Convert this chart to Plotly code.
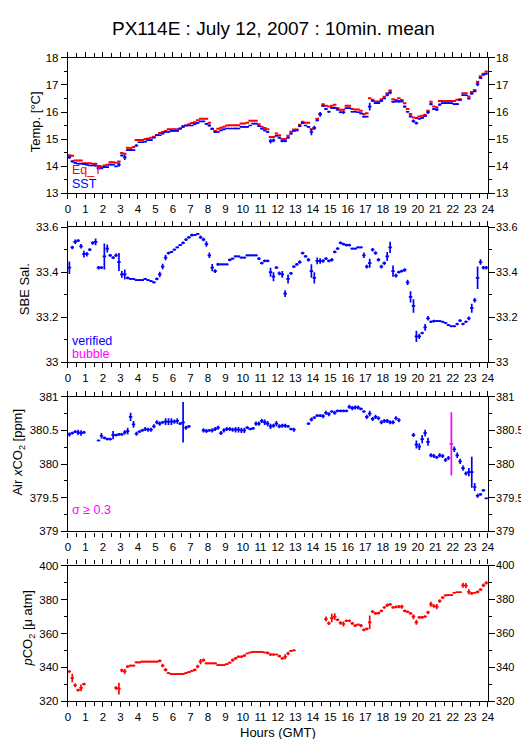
import numpy as np
import plotly.graph_objects as go

nan = float("nan")
# 10-minute bin centres (hours GMT)
hours = [round((i + 0.5) / 6, 4) for i in range(144)]

eq_t = [
    14.40, 14.38, 14.20, 14.20, 14.20, 14.10,
    14.10, 14.10, 14.08, 14.08, 13.96, 13.96,
    14.02, 14.05, 14.14, 14.14, 14.12, 14.17,
    14.48, 14.45, 14.68, 14.66, 14.70, 14.96,
    14.96, 14.96, 15.00, 15.02, 15.05, 15.08,
    15.15, 15.22, 15.26, 15.30, 15.36, 15.36,
    15.36, 15.36, 15.40, 15.48, 15.50, 15.55,
    15.59, 15.62, 15.69, 15.75, 15.75, 15.75,
    15.60, 15.38, 15.30, 15.38, 15.42, 15.45,
    15.50, 15.51, 15.51, 15.51, 15.51, 15.57,
    15.57, 15.60, 15.68, 15.68, 15.68, 15.55,
    15.45, 15.41, 15.36, 15.07, 15.07, 15.20,
    15.14, 15.00, 15.00, 15.12, 15.27, 15.35,
    15.35, 15.53, 15.64, 15.60, 15.60, 15.36,
    15.41, 15.75, 15.93, 16.29, 16.23, 16.20,
    16.23, 16.27, 16.15, 16.08, 16.08, 16.23,
    16.23, 16.11, 16.09, 16.09, 16.05, 15.93,
    15.95, 16.51, 16.45, 16.39, 16.39, 16.47,
    16.56, 16.69, 16.80, 16.47, 16.44, 16.51,
    16.44, 16.32, 16.11, 15.93, 15.80, 15.78,
    15.83, 15.86, 15.90, 16.05, 16.38, 16.20,
    16.18, 16.41, 16.41, 16.41, 16.41, 16.41,
    16.41, 16.45, 16.47, 16.69, 16.69, 16.57,
    16.74, 16.81, 17.12, 17.32, 17.42, 17.50,
]

sst = [
    14.32, 14.17, 14.12, 14.09, 14.09, 14.07,
    14.05, 14.02, 14.02, 14.02, 13.91, 13.91,
    13.96, 13.96, 14.05, 14.05, 13.99, 14.05,
    14.39, 14.32, 14.59, 14.59, 14.59, 14.76,
    14.88, 14.88, 14.90, 14.96, 14.96, 15.05,
    15.14, 15.14, 15.20, 15.26, 15.26, 15.30,
    15.30, 15.30, 15.38, 15.45, 15.50, 15.50,
    15.50, 15.55, 15.60, 15.65, 15.65, 15.56,
    15.50, 15.38, 15.26, 15.26, 15.32, 15.36,
    15.39, 15.39, 15.39, 15.39, 15.39, 15.45,
    15.45, 15.45, 15.50, 15.57, 15.57, 15.48,
    15.38, 15.32, 15.26, 14.92, 14.95, 15.12,
    15.05, 14.92, 14.92, 15.05, 15.20, 15.30,
    15.32, 15.48, 15.59, 15.50, 15.45, 15.26,
    15.41, 15.69, 15.91, 16.23, 16.11, 16.01,
    16.15, 16.15, 16.09, 15.99, 15.99, 16.14,
    16.14, 16.01, 16.01, 15.99, 15.95, 15.83,
    15.83, 16.20, 16.41, 16.33, 16.33, 16.41,
    16.50, 16.63, 16.72, 16.38, 16.39, 16.39,
    16.39, 16.20, 16.01, 15.84, 15.66, 15.59,
    15.75, 15.78, 15.85, 15.99, 16.29, 16.11,
    16.09, 16.27, 16.33, 16.33, 16.33, 16.33,
    16.29, 16.29, 16.45, 16.62, 16.62, 16.50,
    16.68, 16.76, 17.03, 17.26, 17.38, 17.42,
]

sst_err = [
    0.05, 0.04, 0.02, 0.02, 0.02, 0.02,
    0.02, 0.02, 0.02, 0.05, 0.03, 0.02,
    0.02, 0.02, 0.02, 0.02, 0.02, 0.08,
    0.04, 0.10, 0.03, 0.03, 0.02, 0.05,
    0.02, 0.02, 0.02, 0.02, 0.02, 0.02,
    0.02, 0.02, 0.02, 0.02, 0.02, 0.02,
    0.02, 0.02, 0.03, 0.03, 0.02, 0.02,
    0.02, 0.02, 0.03, 0.02, 0.02, 0.02,
    0.05, 0.04, 0.04, 0.02, 0.02, 0.02,
    0.02, 0.02, 0.02, 0.03, 0.02, 0.02,
    0.02, 0.02, 0.02, 0.02, 0.02, 0.02,
    0.03, 0.03, 0.04, 0.09, 0.07, 0.03,
    0.03, 0.04, 0.04, 0.03, 0.03, 0.03,
    0.02, 0.03, 0.03, 0.02, 0.02, 0.12,
    0.08, 0.03, 0.09, 0.03, 0.04, 0.04,
    0.03, 0.04, 0.03, 0.04, 0.06, 0.03,
    0.02, 0.02, 0.02, 0.02, 0.03, 0.03,
    0.02, 0.14, 0.03, 0.03, 0.03, 0.03,
    0.03, 0.05, 0.06, 0.04, 0.04, 0.05,
    0.04, 0.04, 0.03, 0.04, 0.06, 0.05,
    0.03, 0.03, 0.03, 0.06, 0.04, 0.04,
    0.05, 0.04, 0.02, 0.02, 0.02, 0.02,
    0.02, 0.03, 0.03, 0.03, 0.02, 0.04,
    0.03, 0.02, 0.08, 0.04, 0.03, 0.03,
]

sal = [
    33.42, 33.51, 33.535, 33.54, 33.515, 33.48,
    33.48, 33.50, 33.53, 33.535, 33.42, 33.42,
    33.47, 33.505, 33.475, 33.465, 33.475, 33.445,
    33.39, 33.39, 33.375, 33.37, 33.37, 33.365,
    33.365, 33.365, 33.37, 33.365, 33.36, 33.355,
    33.37, 33.39, 33.425, 33.465, 33.485, 33.49,
    33.50, 33.51, 33.52, 33.53, 33.545, 33.555,
    33.565, 33.565, 33.57, 33.555, 33.545, 33.525,
    33.475, 33.42, 33.405, 33.435, 33.435, 33.435,
    33.435, 33.455, 33.46, 33.47, 33.47, 33.465,
    33.465, 33.475, 33.475, 33.475, 33.475, 33.46,
    33.44, 33.45, 33.45, 33.40, 33.38, 33.42,
    33.395, 33.39, 33.305, 33.37, 33.395, 33.425,
    33.435, 33.445, 33.485, 33.47, 33.455, 33.405,
    33.375, 33.45, 33.45, 33.45, 33.46, 33.45,
    33.455, 33.49, 33.505, 33.53, 33.525, 33.52,
    33.52, 33.505, 33.505, 33.51, 33.51, 33.475,
    33.425, 33.44, 33.50, 33.485, 33.455, 33.425,
    33.44, 33.47, 33.51, 33.405, 33.385, 33.40,
    33.405, 33.41, 33.355, 33.29, 33.25, 33.115,
    33.115, 33.13, 33.155, 33.195, 33.18, 33.183,
    33.183, 33.183, 33.18, 33.175, 33.165, 33.16,
    33.16, 33.17, 33.185, 33.17, 33.18, 33.195,
    33.24, 33.275, 33.375, 33.445, 33.42, 33.42,
]

sal_err = [
    0.028, 0.008, 0.010, 0.006, 0.010, 0.015,
    0.010, 0.006, 0.008, 0.015, 0.008, 0.006,
    0.058, 0.018, 0.006, 0.006, 0.008, 0.040,
    0.015, 0.022, 0.006, 0.004, 0.004, 0.004,
    0.004, 0.004, 0.004, 0.004, 0.004, 0.004,
    0.006, 0.012, 0.012, 0.012, 0.006, 0.004,
    0.004, 0.004, 0.004, 0.006, 0.006, 0.006,
    0.006, 0.004, 0.004, 0.008, 0.008, 0.012,
    0.012, 0.016, 0.008, 0.006, 0.004, 0.004,
    0.004, 0.006, 0.004, 0.004, 0.004, 0.004,
    0.004, 0.004, 0.004, 0.004, 0.004, 0.006,
    0.006, 0.006, 0.006, 0.020, 0.020, 0.006,
    0.008, 0.015, 0.015, 0.020, 0.006, 0.006,
    0.006, 0.008, 0.006, 0.006, 0.008, 0.030,
    0.025, 0.015, 0.012, 0.008, 0.006, 0.006,
    0.008, 0.006, 0.006, 0.006, 0.006, 0.006,
    0.006, 0.004, 0.004, 0.004, 0.004, 0.012,
    0.008, 0.020, 0.008, 0.008, 0.008, 0.008,
    0.008, 0.020, 0.025, 0.025, 0.008, 0.006,
    0.006, 0.008, 0.012, 0.025, 0.030, 0.025,
    0.012, 0.006, 0.015, 0.010, 0.006, 0.006,
    0.004, 0.004, 0.004, 0.004, 0.004, 0.004,
    0.004, 0.006, 0.006, 0.006, 0.006, 0.008,
    0.020, 0.010, 0.050, 0.012, 0.008, 0.008,
]

air = [
    380.44, 380.46, 380.48, 380.47, 380.46, 380.47,
    nan, nan, nan, nan, 380.35, 380.42,
    380.39, 380.37, 380.37, 380.43, 380.43, 380.44,
    380.44, 380.47, 380.49, 380.70, 380.59, 380.45,
    380.48, 380.50, 380.52, 380.51, 380.51, 380.56,
    380.62, 380.60, 380.62, 380.63, 380.63, 380.63,
    380.63, 380.64, 380.60, 380.62, 380.54, 380.56,
    nan, nan, nan, nan, 380.50, 380.49,
    380.50, 380.50, 380.52, 380.54, 380.46, 380.50,
    380.52, 380.52, 380.51, 380.51, 380.51, 380.50,
    380.50, 380.54, 380.52, 380.53, 380.60, 380.60,
    380.64, 380.62, 380.60, 380.56, 380.57, 380.60,
    380.56, 380.57, 380.57, 380.56, 380.52, 380.51,
    nan, nan, nan, nan, 380.60, 380.66,
    380.69, 380.72, 380.72, 380.71, 380.76, 380.74,
    380.78, 380.76, 380.79, 380.79, 380.79, 380.79,
    380.85, 380.83, 380.84, 380.84, 380.82, 380.78,
    380.70, 380.75, 380.67, 380.70, 380.68, 380.62,
    380.64, 380.64, 380.62, 380.62, 380.68, 380.65,
    nan, nan, nan, nan, 380.43, 380.29,
    380.26, 380.37, 380.46, 380.33, 380.13, 380.12,
    380.10, 380.13, 380.12, 380.06, 380.09, nan,
    380.22, 380.13, 380.04, 379.94, 379.86, 379.88,
    379.88, 379.66, 379.53, 379.55, 379.61, 379.49,
]

air_err = [
    0.03, 0.02, 0.02, 0.04, 0.04, 0.02,
    0.0, 0.0, 0.0, 0.0, 0.01, 0.04,
    0.02, 0.02, 0.02, 0.06, 0.02, 0.02,
    0.02, 0.03, 0.05, 0.06, 0.05, 0.03,
    0.02, 0.02, 0.03, 0.03, 0.03, 0.03,
    0.03, 0.03, 0.02, 0.05, 0.05, 0.05,
    0.03, 0.04, 0.02, 0.30, 0.03, 0.02,
    0.0, 0.0, 0.0, 0.0, 0.03, 0.03,
    0.02, 0.03, 0.03, 0.03, 0.03, 0.03,
    0.03, 0.03, 0.03, 0.04, 0.04, 0.04,
    0.04, 0.02, 0.02, 0.02, 0.03, 0.03,
    0.03, 0.04, 0.04, 0.04, 0.03, 0.04,
    0.03, 0.03, 0.03, 0.02, 0.02, 0.03,
    0.0, 0.0, 0.0, 0.0, 0.02, 0.03,
    0.02, 0.02, 0.02, 0.03, 0.03, 0.03,
    0.02, 0.03, 0.02, 0.02, 0.02, 0.02,
    0.03, 0.03, 0.03, 0.03, 0.02, 0.02,
    0.03, 0.04, 0.03, 0.03, 0.03, 0.03,
    0.03, 0.03, 0.03, 0.03, 0.03, 0.03,
    0.0, 0.0, 0.0, 0.0, 0.03, 0.06,
    0.05, 0.06, 0.05, 0.06, 0.03, 0.03,
    0.02, 0.03, 0.03, 0.03, 0.03, 0.0,
    0.04, 0.04, 0.04, 0.04, 0.03, 0.06,
    0.23, 0.06, 0.03, 0.02, 0.02, 0.01,
]

bubble_hours = [21.9167]
bubble_air = [380.30]
bubble_err = [0.47]

pco2 = [
    337.6, 333.7, 329.5, 326.6, 327.9, 330.2,
    nan, nan, nan, nan, nan, nan,
    nan, nan, nan, nan, 327.9, 327.5,
    338.2, 337.6, 340.5, 341.1, 341.1, 343.0,
    343.0, 343.4, 343.4, 343.4, 343.4, 343.4,
    343.4, 343.8, 341.1, 338.6, 336.6, 336.0,
    336.0, 336.0, 336.0, 336.2, 336.6, 337.2,
    338.0, 338.6, 340.5, 343.4, 344.3, 342.4,
    342.4, 342.4, 342.4, 341.4, 341.4, 341.4,
    342.0, 342.8, 344.3, 345.3, 346.3, 346.3,
    346.9, 348.2, 348.8, 349.2, 349.2, 349.2,
    349.2, 348.8, 348.6, 347.6, 347.6, 347.6,
    346.7, 345.3, 346.3, 348.2, 349.8, 350.1,
    nan, nan, nan, nan, nan, nan,
    nan, nan, nan, nan, 368.5, 366.0,
    369.1, 369.9, 368.1, 366.2, 365.6, 367.5,
    367.5, 366.0, 364.6, 365.2, 364.6, 362.1,
    362.7, 366.6, 372.9, 371.8, 372.0, 373.3,
    375.3, 376.6, 377.2, 375.3, 375.7, 375.8,
    375.8, 373.3, 372.8, 371.8, 369.9, 366.6,
    369.5, 369.5, 370.0, 372.4, 377.2, 376.2,
    375.8, 379.1, 381.1, 382.4, 382.6, 382.6,
    384.0, 384.3, 384.3, 388.4, 388.2, 384.5,
    383.6, 384.0, 384.5, 385.9, 388.4, 389.8,
]

pco2_err = [
    0.8, 2.5, 1.2, 0.8, 2.0, 0.8,
    0, 0, 0, 0, 0, 0,
    0, 0, 0, 0, 1.0, 3.5,
    1.0, 1.5, 0.8, 0.5, 0.5, 0.5,
    0.5, 0.5, 0.5, 0.5, 0.5, 0.5,
    0.5, 0.8, 1.0, 1.0, 0.5, 0.5,
    0.5, 0.5, 0.5, 0.5, 0.5, 0.5,
    0.5, 0.8, 1.0, 1.5, 1.0, 0.5,
    0.5, 0.5, 0.5, 0.5, 0.5, 0.5,
    0.5, 0.5, 1.0, 0.8, 0.8, 0.8,
    0.8, 0.5, 0.5, 0.5, 0.5, 0.5,
    0.5, 0.5, 0.8, 0.8, 0.8, 0.5,
    0.8, 0.8, 1.5, 1.0, 0.5, 0.5,
    0, 0, 0, 0, 0, 0,
    0, 0, 0, 0, 1.5, 1.0,
    2.5, 2.0, 0.8, 1.0, 1.5, 0.8,
    0.8, 0.8, 0.8, 0.5, 1.0, 0.8,
    0.8, 4.0, 0.8, 0.8, 0.8, 0.8,
    0.8, 1.0, 0.8, 0.8, 0.8, 1.0,
    1.2, 0.8, 0.8, 0.8, 1.5, 1.5,
    0.8, 0.8, 0.8, 1.0, 1.5, 1.0,
    1.5, 1.0, 0.8, 0.5, 0.5, 0.5,
    0.5, 0.5, 0.5, 1.5, 1.5, 1.5,
    0.8, 0.5, 0.8, 0.8, 1.0, 1.0,
]

hour_ticks = list(range(0, 25))

W, H = 529, 739
FONT = "Liberation Sans, Arial, Helvetica, sans-serif"
BLUE = "#0000ff"
RED = "#ff0000"
MAGENTA = "#ff00ff"
XHALF = 0.1
TICKFS = 11.5
TITLEFS = 13

x_dom = [58 / W, 486 / W]
panels_px = [(44.7, 182.0), (216.7, 354.0), (389.0, 526.0), (560.7, 698.7)]
y_doms = [[1 - b / H, 1 - t / H] for t, b in panels_px]


def cross(x, y, err, color, xa, ya, thick=1.7):
    return go.Scatter(
        x=x, y=y, mode="markers", xaxis=xa, yaxis=ya,
        marker=dict(size=1, color=color),
        error_x=dict(type="constant", value=XHALF, width=0, thickness=thick, color=color),
        error_y=dict(type="data", array=err, width=0, thickness=thick, color=color, visible=True),
        showlegend=False, hoverinfo="skip",
    )


fig = go.Figure()
fig.add_trace(cross(hours, eq_t, [0.0] * 144, RED, "x", "y", 2))
fig.add_trace(cross(hours, sst, sst_err, BLUE, "x", "y"))
fig.add_trace(cross(hours, sal, sal_err, BLUE, "x2", "y2"))
fig.add_trace(cross(hours, air, air_err, BLUE, "x3", "y3"))
fig.add_trace(cross(bubble_hours, bubble_air, bubble_err, MAGENTA, "x3", "y3"))
fig.add_trace(cross(hours, pco2, pco2_err, RED, "x4", "y4"))

ranges = [[13, 18], [33, 33.6], [379, 381], [320, 400]]
minors = [0.5, 0.1, 0.25, 10]
tickvals = [[13, 14, 15, 16, 17, 18], [33.0, 33.2, 33.4, 33.6],
            [379.0, 379.5, 380.0, 380.5, 381.0], [320, 340, 360, 380, 400]]
ticktexts = [["13", "14", "15", "16", "17", "18"], ["33", "33.2", "33.4", "33.6"],
             ["379", "379.5", "380", "380.5", "381"], ["320", "340", "360", "380", "400"]]
ytitles = ["Temp. [°C]", "SBE Sal.", "Air <i>x</i>CO<sub>2</sub> [ppm]",
           "<i>p</i>CO<sub>2</sub> [μ atm]"]
ytitle_pos = [(25, 109.5), (14, 280), (8, 445), (18, 625)]

layout = dict(
    width=W, height=H, margin=dict(l=0, r=0, t=0, b=0),
    paper_bgcolor="white", plot_bgcolor="white",
    font=dict(family=FONT, size=12, color="black"),
    showlegend=False,
)

for i in range(4):
    n = "" if i == 0 else str(i + 1)
    layout["xaxis" + n] = dict(
        domain=x_dom, anchor="y" + n, range=[0, 24],
        tickmode="array", tickvals=hour_ticks, ticktext=[str(h) for h in hour_ticks],
        ticks="outside", ticklen=5, tickwidth=1, tickcolor="black",
        minor=dict(dtick=0.5, tick0=0, ticks="outside", ticklen=4, tickwidth=1, tickcolor="black"),
        showline=True, linecolor="black", linewidth=1.2, mirror="ticks",
        showgrid=False, zeroline=False, tickfont=dict(size=TICKFS),
        fixedrange=True,
    )
    common_y = dict(
        domain=y_doms[i], range=ranges[i],
        tickmode="array", tickvals=tickvals[i], ticktext=ticktexts[i],
        ticks="outside", ticklen=6, tickwidth=1, tickcolor="black",
        minor=dict(dtick=minors[i], tick0=ranges[i][0], ticks="outside", ticklen=3,
                   tickwidth=1, tickcolor="black"),
        showgrid=False, zeroline=False, tickfont=dict(size=TICKFS),
        ticklabeloverflow="allow",
        fixedrange=True,
    )
    layout["yaxis" + n] = dict(
        common_y, anchor="x" + n, showline=True, linecolor="black", linewidth=1.2, mirror=True,
    )
    layout["yaxis" + str(i + 5)] = dict(
        common_y, anchor="x" + n, overlaying="y" + n, side="right",
        showline=True, linecolor="black", linewidth=1.2,
        tickfont=dict(size=11), ticklabelstandoff=-1,
    )

fig.update_layout(**layout)
# keep right-hand axes alive
for i in range(4):
    fig.add_trace(go.Scatter(x=[None], y=[None], xaxis="x" + ("" if i == 0 else str(i + 1)),
                             yaxis="y" + str(i + 5), showlegend=False, hoverinfo="skip"))


def label(text, x_px, y_px, color, size=12, xanchor="left", angle=0):
    fig.add_annotation(text=text, x=x_px / W, y=1 - y_px / H, xref="paper", yref="paper",
                       xanchor=xanchor, yanchor="middle", showarrow=False, textangle=angle,
                       font=dict(family=FONT, size=size, color=color))


label("PX114E : July 12, 2007 : 10min. mean", 267.5, 15, "black", size=19, xanchor="center")
label("Eq_T", 60, 159, RED, size=12.5)
label("SST", 60, 172.5, BLUE, size=12.5)
label("verified", 60, 332, BLUE, size=12.5)
label("bubble", 60, 345.5, MAGENTA, size=12.5)
label("σ ≥ 0.3", 60, 504, MAGENTA, size=12.5)
label("Hours (GMT)", 272, 730, "black", size=TITLEFS, xanchor="center")
for t, (px, py) in zip(ytitles, ytitle_pos):
    label(t, px, py, "black", size=TITLEFS, xanchor="center", angle=-90)

fig.write_html("out.html")
